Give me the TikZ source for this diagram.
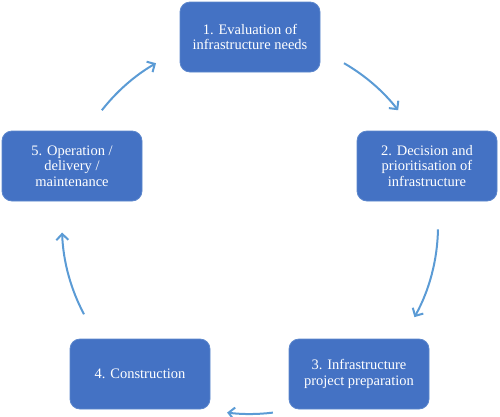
\documentclass[tikz,border=0pt]{standalone}
\usepackage{fontspec}
\setmainfont{Liberation Serif}
\usetikzlibrary{positioning,calc,arrows.meta}
\definecolor{boxblue}{HTML}{4472C4}
\definecolor{boxline}{HTML}{5B86CC}
\definecolor{arrowblue}{HTML}{5B9BD5}
\tikzset{font=\fontsize{14.5}{15.5}\selectfont}

\begin{document}
\begin{tikzpicture}[x=1pt,y=1pt]
	\useasboundingbox (0,0) rectangle (500,-416);
	\begin{scope}
		\tikzstyle{every node}=[align=center, inner sep=2pt]
		\tikzstyle{stage}=[draw=boxline, line width=0.8pt, fill=boxblue, text=white, rounded corners=10pt, minimum width=140pt, minimum height=70pt]
		\tikzstyle{flow}=[draw=arrowblue, line width=2pt, -{Straight Barb[length=6pt,width=12pt]}]

		\node[stage] (s1) at (250, -37) {1. Evaluation of\\infrastructure needs};
		\node[stage] (s2) at (427, -166) {2. Decision and\\prioritisation of\\infrastructure};
		\node[stage] (s3) at (359, -374) {3. Infrastructure\\project preparation};
		\node[stage] (s4) at (140, -374) {4. Construction};
		\node[stage] (s5) at (72, -166) {5. Operation /\\delivery /\\maintenance};

		\coordinate (c) at (250, -226);
		\foreach \a/\b in {60/38, -1/-29, -83/-97, 208/182, 142/120}
			\draw[flow] ($(c)+(\a:188)$) arc[start angle=\a, end angle=\b, radius=188];
	\end{scope}
\end{tikzpicture}
\end{document}
